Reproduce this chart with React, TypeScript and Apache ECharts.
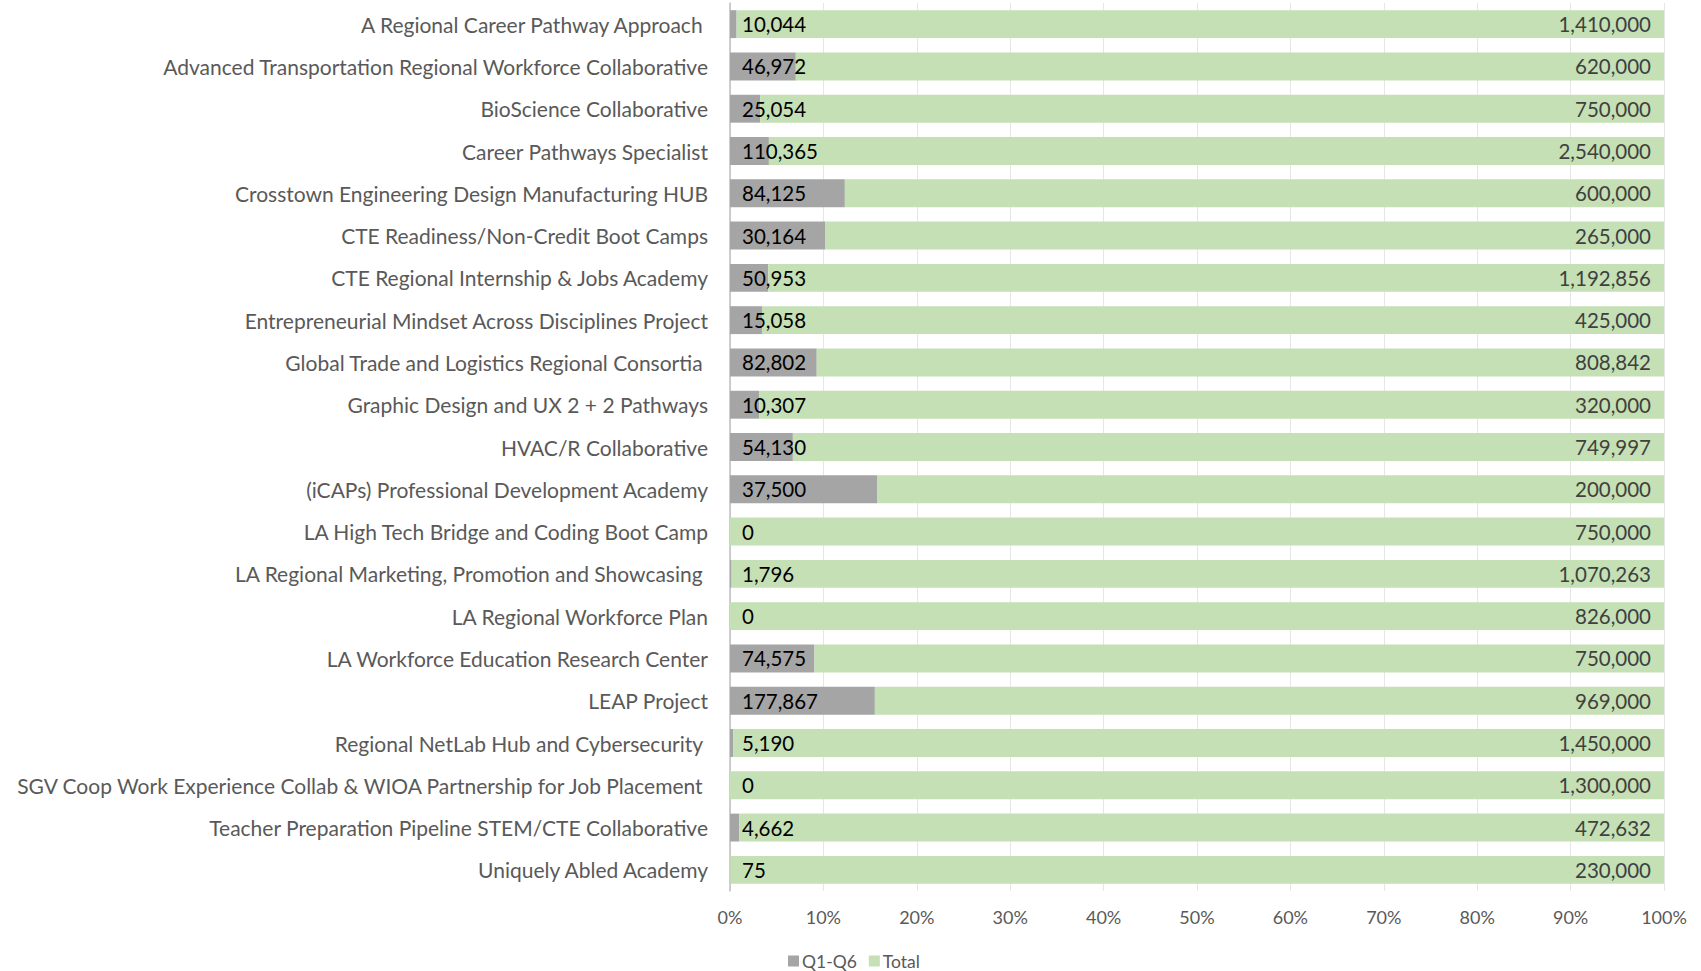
import React, { useEffect, useRef } from "react";
import * as echarts from "echarts";

const categories = [
  "A Regional Career Pathway Approach ",
  "Advanced Transportation Regional Workforce Collaborative",
  "BioScience Collaborative",
  "Career Pathways Specialist",
  "Crosstown Engineering Design Manufacturing HUB",
  "CTE Readiness/Non-Credit Boot Camps",
  "CTE Regional Internship & Jobs Academy",
  "Entrepreneurial Mindset Across Disciplines Project",
  "Global Trade and Logistics Regional Consortia ",
  "Graphic Design and UX 2 + 2 Pathways",
  "HVAC/R Collaborative",
  "(iCAPs) Professional Development Academy",
  "LA High Tech Bridge and Coding Boot Camp",
  "LA Regional Marketing, Promotion and Showcasing ",
  "LA Regional Workforce Plan",
  "LA Workforce Education Research Center",
  "LEAP Project",
  "Regional NetLab Hub and Cybersecurity ",
  "SGV Coop Work Experience Collab & WIOA Partnership for Job Placement ",
  "Teacher Preparation Pipeline STEM/CTE Collaborative",
  "Uniquely Abled Academy",
];

const q1q6 = [10044, 46972, 25054, 110365, 84125, 30164, 50953, 15058, 82802, 10307, 54130, 37500, 0, 1796, 0, 74575, 177867, 5190, 0, 4662, 75];
const total = [1410000, 620000, 750000, 2540000, 600000, 265000, 1192856, 425000, 808842, 320000, 749997, 200000, 750000, 1070263, 826000, 750000, 969000, 1450000, 1300000, 472632, 230000];

const xTicks = ["0%", "10%", "20%", "30%", "40%", "50%", "60%", "70%", "80%", "90%", "100%"];

const FONT = "Lato, 'Open Sans', sans-serif";
const fmt = (n: number) => n.toLocaleString("en-US");

export default function App() {
  const ref = useRef<HTMLDivElement>(null);
  useEffect(() => {
    document.body.style.margin = "0";
    const chart = echarts.init(ref.current!, null, { renderer: "svg" });
    const sums = q1q6.map((v, i) => v + total[i]);
    const qPct = q1q6.map((v, i) => ({ value: (v / sums[i]) * 100, raw: v }));
    const tPct = total.map((v, i) => ({ value: (v / sums[i]) * 100, raw: v }));
    chart.setOption({
      animation: false,
      grid: { left: 730, right: 37, top: 3, bottom: 80 },
      legend: {
        data: ["Q1-Q6", "Total"],
        left: 783,
        top: 947,
        itemWidth: 11,
        itemHeight: 11,
        itemGap: 12,
        icon: "rect",
        textStyle: { fontFamily: FONT, fontSize: 17.5, color: "#595959", padding: [0, 0, 0, -2] },
      },
      xAxis: {
        type: "value",
        min: 0,
        max: 100,
        interval: 10,
        axisLine: { show: false },
        axisTick: { show: false },
        splitLine: { show: true, lineStyle: { color: "#E6E6E6", width: 1 } },
        axisLabel: {
          fontFamily: FONT,
          fontSize: 18,
          color: "#595959",
          margin: 17,
          formatter: (v: number) => xTicks[Math.round(v / 10)],
        },
      },
      yAxis: {
        type: "category",
        inverse: true,
        data: categories,
        axisLine: { show: true, lineStyle: { color: "#BFBFBF", width: 1.5 } },
        axisTick: { show: false },
        axisLabel: {
          fontFamily: FONT,
          fontSize: 21,
          color: "#595959",
          margin: 22,
        },
      },
      series: [
        {
          name: "Q1-Q6",
          type: "bar",
          stack: "s",
          barCategoryGap: "34%",
          data: qPct,
          itemStyle: { color: "#A5A5A5" },
          label: {
            show: true,
            position: "insideLeft",
            distance: 12,
            fontFamily: FONT,
            fontSize: 20.5,
            color: "#000000",
            formatter: (p: any) => fmt(p.data.raw),
          },
        },
        {
          name: "Total",
          type: "bar",
          stack: "s",
          data: tPct,
          itemStyle: { color: "#C5E0B4" },
          label: {
            show: true,
            position: "insideRight",
            distance: 13,
            fontFamily: FONT,
            fontSize: 20.5,
            color: "#404040",
            formatter: (p: any) => fmt(p.data.raw),
          },
        },
      ],
    });
    return () => chart.dispose();
  }, []);
  return <div ref={ref} style={{ width: 1701, height: 971 }} />;
}
